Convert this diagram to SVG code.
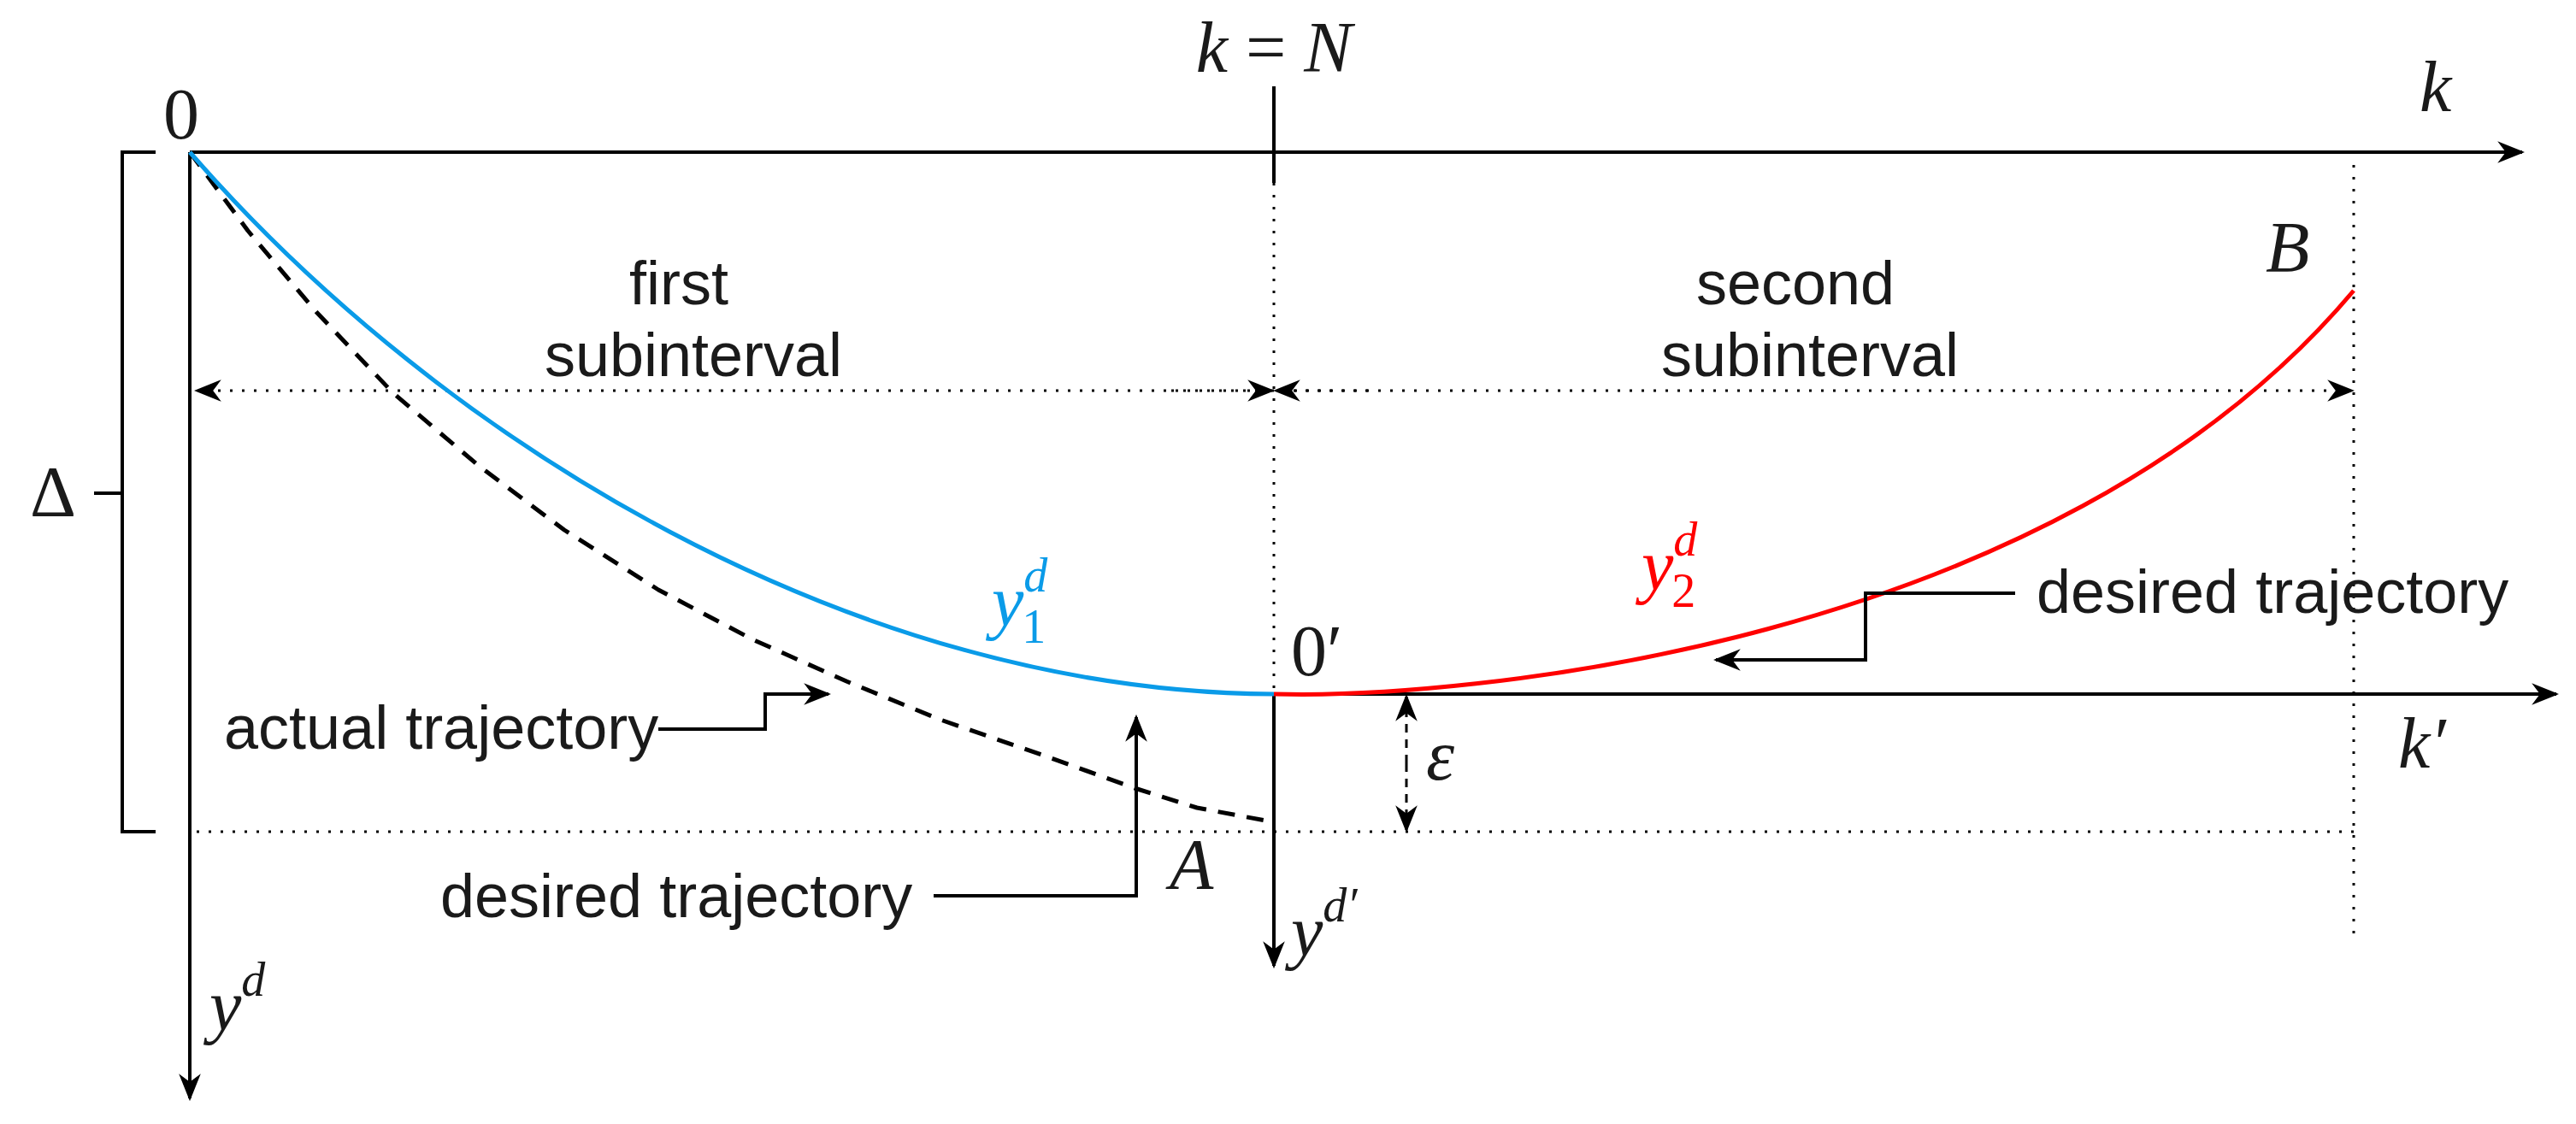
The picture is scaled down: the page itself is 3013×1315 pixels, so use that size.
<svg xmlns="http://www.w3.org/2000/svg" width="3013" height="1315" viewBox="0 0 3013 1315">
<style>
.ax{stroke:#000;stroke-width:4;fill:none}
.dot{stroke:#000;stroke-width:3;fill:none;stroke-dasharray:3 11}
.t{font-family:"Liberation Sans",Arial,sans-serif;font-size:72px;fill:#1a1a1a}
.m{font-family:"Liberation Serif","Times New Roman",serif;font-style:italic;font-size:84px;fill:#1a1a1a}
.r{font-family:"Liberation Serif","Times New Roman",serif;font-size:84px;fill:#1a1a1a}
</style>
<defs>
<marker id="ah2" viewBox="0 0 10 10" refX="9" refY="5" markerWidth="32" markerHeight="32" markerUnits="userSpaceOnUse" orient="auto"><path d="M0,1 L10,5 L0,9 L3,5 z" fill="#000"/></marker>
</defs>
<g id="connectors">
<line class="ax" x1="222" y1="178" x2="2950" y2="178" marker-end="url(#ah2)"/>
<line class="ax" x1="222" y1="178" x2="222" y2="1285" marker-end="url(#ah2)"/>
<line class="ax" x1="1490" y1="812" x2="2990" y2="812" marker-end="url(#ah2)"/>
<line class="ax" x1="1490" y1="812" x2="1490" y2="1130" marker-end="url(#ah2)"/>
<line class="ax" x1="1490" y1="101" x2="1490" y2="214"/>
<path class="ax" stroke-width="6" d="M182,178 H143 V973 H182 M110,577 H143"/>
<line class="dot" x1="1490" y1="214" x2="1490" y2="812"/>
<line class="dot" x1="2753" y1="193" x2="2753" y2="1092"/>
<line class="dot" x1="230" y1="973" x2="2753" y2="973"/>
<line class="dot" x1="1490" y1="457" x2="230" y2="457" marker-end="url(#ah2)"/>
<line class="dot" x1="1370" y1="457" x2="1488" y2="457" marker-end="url(#ah2)"/>
<line class="dot" x1="1600" y1="457" x2="1492" y2="457" marker-end="url(#ah2)"/>
<line class="dot" x1="1500" y1="457" x2="2751" y2="457" marker-end="url(#ah2)"/>
<path d="M1645,893 V815" stroke="#000" stroke-width="3" stroke-dasharray="10 8" fill="none" marker-end="url(#ah2)"/>
<path d="M1645,893 V971" stroke="#000" stroke-width="3" stroke-dasharray="10 8" fill="none" marker-end="url(#ah2)"/>
<path d="M222,178 L290,270 L370,365 L460,460 L560,545 L660,620 L770,690 L880,748 L990,797 L1100,842 L1224,885 L1327,922 L1400,945 L1480,960" stroke="#000" stroke-width="5" fill="none" stroke-dasharray="20 14" stroke-linejoin="round"/>
<path d="M222,178 C520,520 1000,810 1490,812" stroke="#0a9be8" stroke-width="5" fill="none"/>
<path d="M1490,812 C1700,818 2400,760 2753,340" stroke="#f00" stroke-width="5" fill="none"/>
<path d="M770,853 H895 V812 H969" class="ax" stroke-width="3" marker-end="url(#ah2)"/>
<path d="M1092,1048 H1329 V839" class="ax" stroke-width="3" marker-end="url(#ah2)"/>
<path d="M2357,694 H2182 V772 H2007" class="ax" stroke-width="3" marker-end="url(#ah2)"/>
</g>
<g id="labels">
<text class="r" x="212" y="162" text-anchor="middle">0</text>
<text class="r" x="62" y="604" text-anchor="middle" font-size="96">Δ</text>
<text class="m" x="1490" y="84" text-anchor="middle">k <tspan font-style="normal">=</tspan> N</text>
<text class="m" x="2830" y="130">k</text>
<text class="m" x="2650" y="318">B</text>
<text class="m" x="2805" y="898">k′</text>
<text class="m" x="1668" y="912">ε</text>
<text class="r" x="1510" y="790">0′</text>
<text class="m" x="1368" y="1040">A</text>
<text class="m" x="245" y="1205">y<tspan font-size="56" dy="-40">d</tspan></text>
<text class="m" x="1510" y="1118">y<tspan font-size="56" dy="-40">d′</tspan></text>
<text class="m" x="1160" y="732" style="fill:#0a9be8">y<tspan font-size="56" dy="-40">d</tspan><tspan font-style="normal" font-size="56" dx="-30" dy="60">1</tspan></text>
<text class="m" x="1920" y="690" style="fill:#f00">y<tspan font-size="56" dy="-40">d</tspan><tspan font-style="normal" font-size="56" dx="-30" dy="60">2</tspan></text>
<text class="t" x="794" y="356" text-anchor="middle">first</text>
<text class="t" x="811" y="440" text-anchor="middle">subinterval</text>
<text class="t" x="2100" y="356" text-anchor="middle">second</text>
<text class="t" x="2117" y="440" text-anchor="middle">subinterval</text>
<text class="t" x="262" y="876">actual trajectory</text>
<text class="t" x="515" y="1073">desired trajectory</text>
<text class="t" x="2382" y="717">desired trajectory</text>
</g>
</svg>
